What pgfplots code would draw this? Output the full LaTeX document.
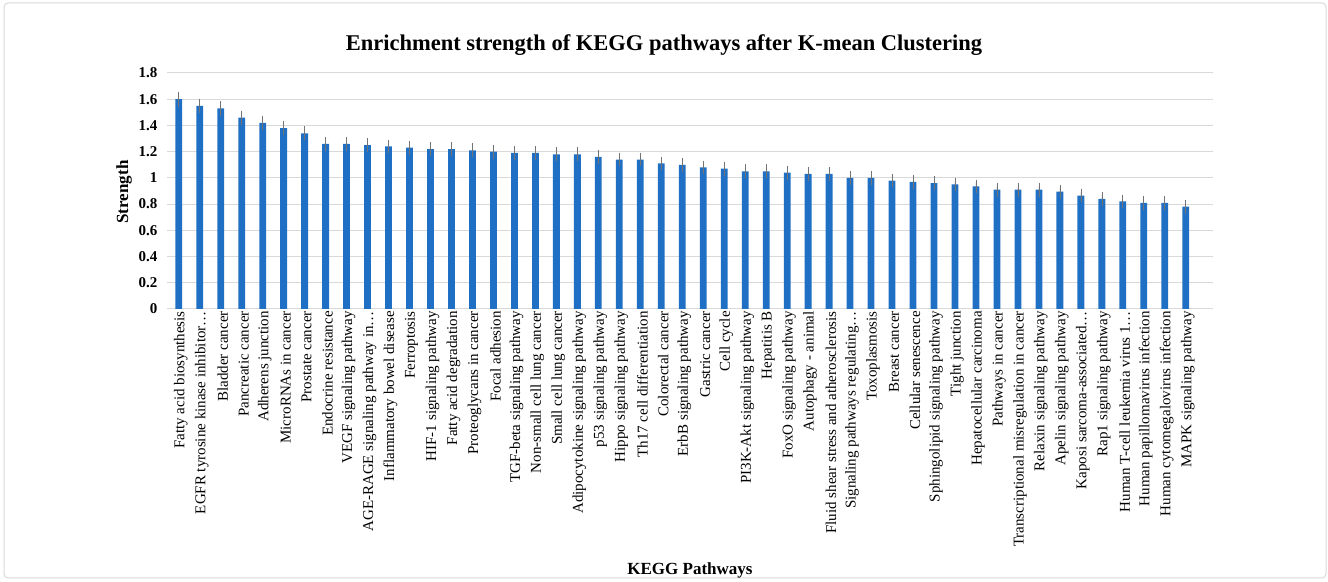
\documentclass[border=0pt]{standalone}
\usepackage{pgfplots}
\usepackage{pgfplotstable}
\usepackage{fontspec}
\setmainfont{Liberation Serif}
\pgfplotsset{compat=1.18}
\definecolor{barblue}{RGB}{31,112,196}
\definecolor{gridgray}{RGB}{217,217,217}

% index, strength, error
\pgfplotstableread{
x y e
1 1.60 0.032
2 1.55 0.030
3 1.53 0.030
4 1.46 0.029
5 1.42 0.028
6 1.38 0.028
7 1.34 0.028
8 1.26 0.028
9 1.26 0.028
10 1.25 0.028
11 1.24 0.028
12 1.23 0.028
13 1.22 0.028
14 1.22 0.028
15 1.21 0.028
16 1.20 0.028
17 1.19 0.028
18 1.19 0.028
19 1.18 0.028
20 1.18 0.028
21 1.16 0.028
22 1.14 0.028
23 1.14 0.028
24 1.11 0.028
25 1.10 0.028
26 1.08 0.028
27 1.07 0.028
28 1.05 0.028
29 1.05 0.028
30 1.04 0.028
31 1.03 0.028
32 1.03 0.028
33 1.00 0.028
34 1.00 0.028
35 0.98 0.028
36 0.97 0.028
37 0.96 0.028
38 0.95 0.028
39 0.935 0.028
40 0.91 0.028
41 0.91 0.028
42 0.91 0.028
43 0.895 0.028
44 0.865 0.028
45 0.84 0.028
46 0.82 0.028
47 0.81 0.028
48 0.81 0.028
49 0.78 0.028
}\strength

\begin{document}
\begin{tikzpicture}[x=1pt,y=1pt]
  % page and frame
  \fill[white] (0,0) rectangle (1328,581);
  \draw[gridgray, line width=1pt, rounded corners=4pt] (4,3) rectangle (1326,578);

  \begin{axis}[
      at={(167pt,272pt)}, anchor=south west,
      scale only axis,
      width=1046pt, height=236pt,
      ybar, bar width=6.8pt,
      xmin=0.44, xmax=50.3,
      ymin=0, ymax=1.8,
      ytick={0,0.2,...,1.8},
      xtick={1,...,49},
      xticklabels={
        Fatty acid biosynthesis,
        EGFR tyrosine kinase inhibitor…,
        Bladder cancer,
        Pancreatic cancer,
        Adherens junction,
        MicroRNAs in cancer,
        Prostate cancer,
        Endocrine resistance,
        VEGF signaling pathway,
        AGE-RAGE signaling pathway in…,
        Inflammatory bowel disease,
        Ferroptosis,
        HIF-1 signaling pathway,
        Fatty acid degradation,
        Proteoglycans in cancer,
        Focal adhesion,
        TGF-beta signaling pathway,
        Non-small cell lung cancer,
        Small cell lung cancer,
        Adipocytokine signaling pathway,
        p53 signaling pathway,
        Hippo signaling pathway,
        Th17 cell differentiation,
        Colorectal cancer,
        ErbB signaling pathway,
        Gastric cancer,
        Cell cycle,
        PI3K-Akt signaling pathway,
        Hepatitis B,
        FoxO signaling pathway,
        Autophagy - animal,
        Fluid shear stress and atherosclerosis,
        Signaling pathways regulating…,
        Toxoplasmosis,
        Breast cancer,
        Cellular senescence,
        Sphingolipid signaling pathway,
        Tight junction,
        Hepatocellular carcinoma,
        Pathways in cancer,
        Transcriptional misregulation in cancer,
        Relaxin signaling pathway,
        Apelin signaling pathway,
        Kaposi sarcoma-associated…,
        Rap1 signaling pathway,
        Human T-cell leukemia virus 1…,
        Human papillomavirus infection,
        Human cytomegalovirus infection,
        MAPK signaling pathway},
      xticklabel style={rotate=90, anchor=east, font=\fontsize{15}{15}\selectfont, inner sep=2pt, yshift=-2pt},
      yticklabel style={font=\fontsize{15}{15}\selectfont\bfseries, xshift=-6pt},
      /pgf/number format/assume math mode=true,
      major tick length=0pt,
      axis lines=left,
      axis line style={draw=none},
      ymajorgrids,
      grid style={gridgray, line width=1pt},
      clip=false,
    ]
    \addplot[fill=barblue, draw=none,
      error bars/.cd, y dir=both, y explicit,
      error bar style={color=black!55, line width=0.7pt},
      error mark options={color=black!55, line width=0.7pt, mark size=3.2pt}]
      table[x=x, y=y, y error=e] {\strength};
  \end{axis}

  \node[font=\fontsize{22.5}{26}\selectfont\bfseries] at (664,536) {Enrichment strength of KEGG pathways after K-mean Clustering};
  \node[font=\fontsize{17}{20}\selectfont\bfseries, rotate=90] at (124,389) {Strength};
  \node[font=\fontsize{17}{20}\selectfont\bfseries] at (690,11) {KEGG Pathways};
\end{tikzpicture}
\end{document}
